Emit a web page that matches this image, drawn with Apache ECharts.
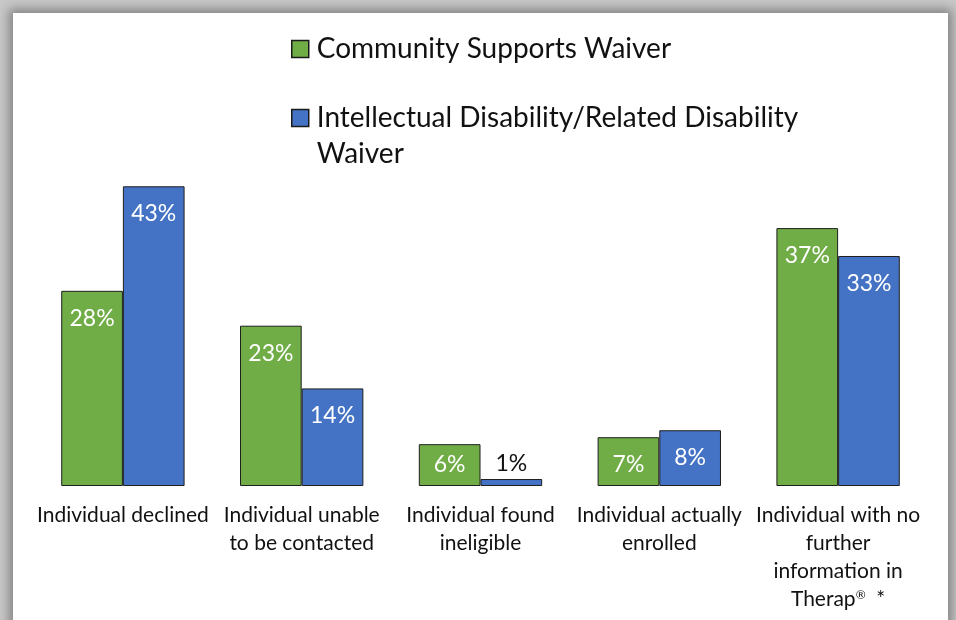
<!DOCTYPE html>
<html>
<head>
<meta charset="utf-8">
<script src="https://cdn.jsdelivr.net/npm/echarts@6/dist/echarts.min.js"></script>
<style>
  html, body { margin: 0; padding: 0; background: #c8c8c8; overflow: hidden; }
  #frame {
    position: absolute; left: 13px; top: 13px; width: 935px; height: 640px;
    background: #fff;
    box-shadow: 0 0 10px 4px rgba(0,0,0,0.35);
  }
  #chart { position: absolute; left: 0; top: 0; width: 956px; height: 620px; }
</style>
</head>
<body>
<div id="frame"></div>
<div id="chart"></div>
<script>
// Outcome categories (line breaks as shown under each group)
const categories = [
  'Individual declined',
  'Individual unable\nto be contacted',
  'Individual found\nineligible',
  'Individual actually\nenrolled',
  'Individual with no\nfurther\ninformation in\nTherap®  *'
];
const seriesNames = [
  'Community Supports Waiver',
  'Intellectual Disability/Related Disability Waiver'
];
// Percent of individuals per outcome
const communitySupports = [28, 23, 6, 7, 37];
const intellectualDisability = [43, 14, 1, 8, 33];

const GREEN = '#70AD47';
const BLUE = '#4472C4';
const FONT = 'Lato';

function barData(values) {
  return values.map(v => {
    const item = { value: v };
    if (v <= 2) {
      item.label = { position: 'top', distance: 4, color: '#111' };
    } else if (v <= 6) {
      item.label = { distance: 9 };
    }
    return item;
  });
}

// Long legend names wrap before their last word; an empty leading line
// keeps the marker level with the first line of text.
function wrapLegend(name) {
  if (name.length < 40) return name;
  const i = name.lastIndexOf(' ');
  return '\n' + name.slice(0, i) + '\n' + name.slice(i + 1);
}

const chart = echarts.init(document.getElementById('chart'), null, { renderer: 'canvas' });

const barLabel = {
  show: true,
  position: 'insideTop',
  distance: 16,
  color: '#fff',
  fontFamily: FONT,
  fontSize: 23,
  formatter: p => p.value + '%'
};

const legendBase = {
  left: 291, padding: 0,
  itemWidth: 17, itemHeight: 17, itemGap: 0,
  icon: 'rect',
  itemStyle: { borderColor: '#1a1a1a', borderWidth: 1.5 },
  selectedMode: false
};

chart.setOption({
  backgroundColor: 'transparent',
  animation: false,
  legend: [
    Object.assign({}, legendBase, {
      data: [seriesNames[0]],
      top: 32,
      textStyle: { fontFamily: FONT, fontSize: 28, color: '#111', lineHeight: 34, padding: [0, 0, 0, 3] }
    }),
    Object.assign({}, legendBase, {
      data: [seriesNames[1]],
      top: 64,
      formatter: wrapLegend,
      textStyle: { fontFamily: FONT, fontSize: 28, color: '#111', lineHeight: 36, padding: [0, 0, 0, 3] }
    })
  ],
  grid: { left: 33.5, right: 28.5, top: 172.35, bottom: 134, containLabel: false },
  xAxis: {
    type: 'category',
    data: categories,
    axisLine: { show: false },
    axisTick: { show: false },
    axisLabel: {
      interval: 0,
      margin: 15,
      color: '#111',
      fontFamily: FONT,
      fontSize: 21,
      lineHeight: 28,
      formatter: v => v.replace('®', '{sup|®}'),
      rich: {
        sup: { fontFamily: FONT, fontSize: 12, color: '#111', padding: [0, 0, 8, 0] }
      }
    }
  },
  yAxis: {
    type: 'value',
    min: 0,
    max: 45,
    show: false,
    splitLine: { show: false }
  },
  series: [
    {
      name: seriesNames[0],
      type: 'bar',
      data: barData(communitySupports),
      barGap: '0%',
      barCategoryGap: '31%',
      itemStyle: { color: GREEN, borderColor: '#1f1f1f', borderWidth: 1 },
      label: barLabel
    },
    {
      name: seriesNames[1],
      type: 'bar',
      data: barData(intellectualDisability),
      barGap: '0%',
      barCategoryGap: '31%',
      itemStyle: { color: BLUE, borderColor: '#1f1f1f', borderWidth: 1 },
      label: barLabel
    }
  ]
});
</script>
</body>
</html>
